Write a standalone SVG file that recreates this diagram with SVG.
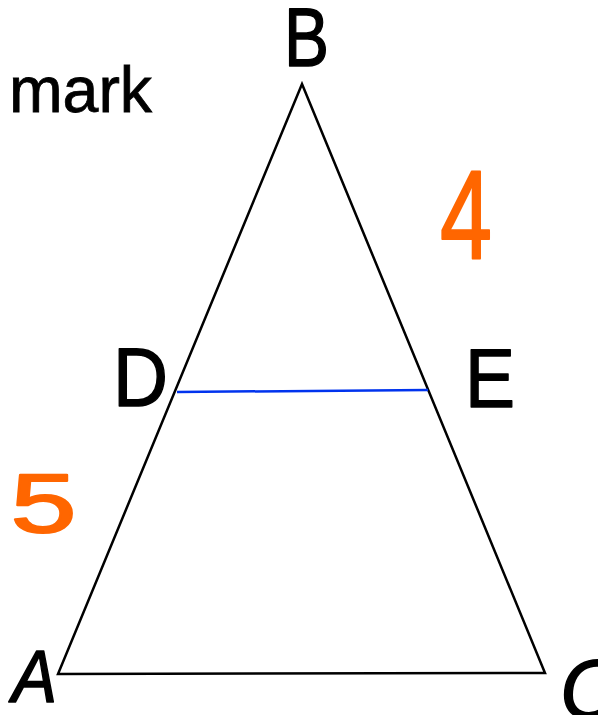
<svg xmlns="http://www.w3.org/2000/svg" width="598" height="715" viewBox="0 0 598 715">
<style>
.lbl{font-family:"Liberation Sans",Arial,sans-serif;font-size:84px;fill:#000;stroke:#000;stroke-width:1.5;stroke-linejoin:round;text-anchor:middle}
.num{font-family:"Liberation Sans",Arial,sans-serif;fill:#ff6600;stroke:#ff6600;stroke-width:2;stroke-linejoin:round;text-anchor:middle}
.edge{fill:none;stroke:#000;stroke-width:2.5;stroke-linejoin:miter}
</style>
<rect width="598" height="715" fill="#fff"/>
<g id="connectors">
<polygon class="edge" points="302,84 545,673 58,674"/>
<line x1="177" y1="392" x2="428" y2="390" stroke="#0033ee" stroke-width="2.5"/>
</g>
<g id="node-B"><text class="lbl" x="306.5" y="66" textLength="45" lengthAdjust="spacingAndGlyphs">B</text></g>
<g id="node-D"><text class="lbl" x="140.5" y="406" textLength="55" lengthAdjust="spacingAndGlyphs">D</text></g>
<g id="node-E"><text class="lbl" x="490" y="407" textLength="50" lengthAdjust="spacingAndGlyphs">E</text></g>
<g id="node-A"><text class="lbl" x="34.5" y="702" style="font-size:74px;font-style:italic" textLength="45" lengthAdjust="spacingAndGlyphs">A</text></g>
<g id="node-C"><text class="lbl" x="590" y="718" style="font-style:italic" textLength="60" lengthAdjust="spacingAndGlyphs">C</text></g>
<g id="label-4"><text class="num" x="466" y="259" font-size="126" textLength="52" lengthAdjust="spacingAndGlyphs">4</text></g>
<g id="label-5"><text class="num" x="43.5" y="532" font-size="84" textLength="66" lengthAdjust="spacingAndGlyphs">5</text></g>
<g id="label-mark"><text x="9" y="112" font-family="Liberation Sans, Arial, sans-serif" font-size="64" fill="#000" stroke="#000" stroke-width="0.8" textLength="143" lengthAdjust="spacingAndGlyphs">mark</text></g>
</svg>
